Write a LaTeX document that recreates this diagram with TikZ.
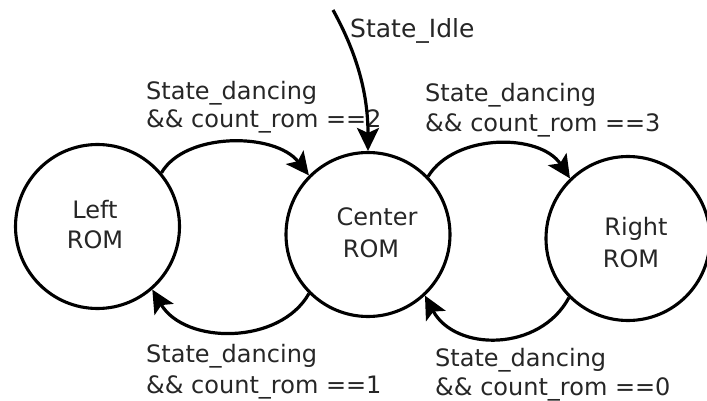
\documentclass[tikz,border=0pt]{standalone}
\usepackage{fontspec}
\setmainfont{DejaVu Sans}
\usetikzlibrary{arrows.meta}
\definecolor{txt}{RGB}{38,38,38}
\begin{document}
\begin{tikzpicture}[x=1pt,y=-1pt,
  state/.style={circle,draw=black,line width=3.1pt,minimum size=164pt,inner sep=0pt},
  lbl/.style={anchor=base west,inner sep=0pt,text=txt,font=\fontsize{24}{28}\selectfont},
  stxt/.style={anchor=base,inner sep=0pt,text=txt,font=\fontsize{24}{28}\selectfont},
  trans/.style={line width=3.2pt,-{Stealth[length=23pt,width=22pt,inset=5pt]}}]
\useasboundingbox (0,0) rectangle (707,401);
\fill[white] (0,0) rectangle (707,401);

% states
\node[state] (L) at (97.5,226.5) {};
\node[state] (C) at (368,234.5) {};
\node[state] (R) at (628,238.5) {};

% state texts
\node[stxt] (L1) at (95,218) {Left};
\node[stxt] (L2) at (95,248) {ROM};
\node[stxt] (C1) at (377,225) {Center};
\node[stxt] (C2) at (371,257) {ROM};
\node[stxt] (R1) at (636,235) {Right};
\node[stxt] (R2) at (631,267) {ROM};

% transition labels
\node[lbl] (tl1) at (146,100) {State\_dancing};
\node[lbl] (tl2) at (146,128) {\&\& count\_rom ==2};
\node[lbl] (tr1) at (425,102) {State\_dancing};
\node[lbl] (tr2) at (425,132) {\&\& count\_rom ==3};
\node[lbl] (bl1) at (146,362) {State\_dancing};
\node[lbl] (bl2) at (146,393) {\&\& count\_rom ==1};
\node[lbl] (br1) at (435,366) {State\_dancing};
\node[lbl] (br2) at (435,395) {\&\& count\_rom ==0};
\node[lbl,font=\fontsize{25}{28}\selectfont] (idle) at (350,38) {State\_Idle};

% transitions
\coordinate (start) at (333,10);
\draw[trans] (start) .. controls (355,50) and (368,90) .. (C.north);
\draw[trans] (L.40) .. controls (185,132) and (275,132) .. (C.135);
\draw[trans] (C.44) .. controls (455,133) and (540,133) .. (R.134);
\draw[trans] (C.225) .. controls (280,345) and (185,345) .. (L.-49);
\draw[trans] (R.225) .. controls (540,352) and (455,352) .. (C.-47);
\end{tikzpicture}
\end{document}
